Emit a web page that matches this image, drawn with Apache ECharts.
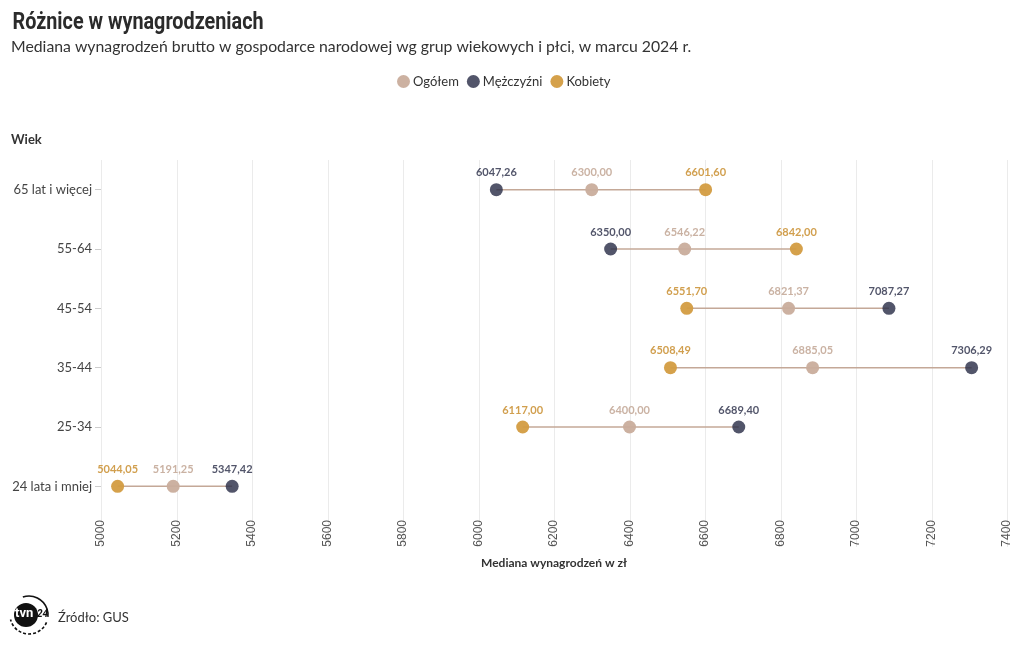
<!DOCTYPE html>
<html><head><meta charset="utf-8">
<script src="https://cdn.jsdelivr.net/npm/echarts@6/dist/echarts.min.js"></script>
<style>html,body{margin:0;padding:0;background:#fff}#c{width:1020px;height:650px}</style>
</head><body><div id="c"></div>
<script>
const categories = ['65 lat i więcej', '55-64', '45-54', '35-44', '25-34', '24 lata i mniej'];
const ogolem = [6300.00, 6546.22, 6821.37, 6885.05, 6400.00, 5191.25];
const mezczyzni = [6047.26, 6350.00, 7087.27, 7306.29, 6689.40, 5347.42];
const kobiety = [6601.60, 6842.00, 6551.70, 6508.49, 6117.00, 5044.05];
const xTicks = [5000, 5200, 5400, 5600, 5800, 6000, 6200, 6400, 6600, 6800, 7000, 7200, 7400];

const C_O = '#c9ad9c', C_M = '#2c3049', C_K = '#d39c41';
const LC_O = '#c7ae9e', LC_M = '#2c3049', LC_K = '#cf9a45';
const FONT = 'Lato';
const fmt = v => v.toFixed(2).replace('.', ',');

const ranges = categories.map((c, i) => {
  const vals = [ogolem[i], mezczyzni[i], kobiety[i]];
  return [Math.min(...vals), Math.max(...vals), i];
});

function scatter(name, vals, color, lcolor) {
  return {
    name, type: 'scatter', symbol: 'circle', symbolSize: 13, z: 3,
    itemStyle: { color, opacity: name === 'Mężczyźni' ? 0.82 : 0.95 },
    data: vals.map((v, i) => [v, i]),
    label: {
      show: true, position: 'top', distance: 5,
      formatter: p => fmt(p.value[0]),
      color: lcolor, fontFamily: FONT, fontWeight: 'bold', fontSize: 11
    }
  };
}

const chart = echarts.init(document.getElementById('c'), null, { renderer: 'canvas' });
chart.setOption({
  animation: false,
  textStyle: { fontFamily: FONT },
  title: [
    { text: 'Mediana wynagrodzeń brutto w gospodarce narodowej wg grup wiekowych i płci, w marcu 2024 r.', left: 6, top: 34,
      textStyle: { fontFamily: FONT, fontWeight: 'normal', fontSize: 15.8, color: '#333' } },
    { text: 'Wiek', left: 6, top: 128, textStyle: { fontFamily: FONT, fontWeight: 'bold', fontSize: 13, color: '#333' } },
    { text: 'Źródło: GUS', left: 53, top: 606, textStyle: { fontFamily: FONT, fontWeight: 'normal', fontSize: 13, color: '#333' } }
  ],
  legend: {
    top: 70, left: 392, itemWidth: 13, itemHeight: 13, itemGap: 8,
    icon: 'circle',
    textStyle: { fontFamily: FONT, fontSize: 13, color: '#333', padding: [0, 0, 0, -2] },
    data: ['Ogółem', 'Mężczyźni', 'Kobiety']
  },
  grid: { left: 101, right: 13, top: 160, bottom: 134, containLabel: false },
  xAxis: {
    type: 'value', min: 5000, max: 7400, interval: 200,
    name: 'Mediana wynagrodzeń w zł', nameLocation: 'middle', nameGap: 41,
    nameTextStyle: { fontFamily: FONT, fontWeight: 'bold', fontSize: 12, color: '#333' },
    axisLine: { show: false }, axisTick: { show: false },
    axisLabel: { rotate: 90, color: '#555', fontFamily: 'Liberation Sans', fontSize: 12, margin: 4,
      formatter: v => xTicks.includes(v) ? String(v) : '' },
    splitLine: { show: false }
  },
  yAxis: {
    type: 'category', data: categories, inverse: true,
    axisLine: { show: false },
    axisTick: { show: true, length: 6, alignWithLabel: true, lineStyle: { color: '#ccc' } },
    axisLabel: { color: '#444', fontFamily: FONT, fontSize: 13, margin: 9 },
    splitLine: { show: false }
  },
  series: [
    {
      type: 'custom', name: 'grid', z: 0, silent: true, clip: false,
      data: xTicks.map(v => [v]),
      renderItem: (params, api) => {
        const cs = params.coordSys;
        const x = Math.round(api.coord([api.value(0), 0])[0]) + 0.5;
        return { type: 'line', shape: { x1: x, y1: cs.y, x2: x, y2: cs.y + cs.height + 31 },
          style: { stroke: '#ebebeb', lineWidth: 1 } };
      },
      encode: { x: 0 }
    },
    {
      type: 'custom', name: 'range', z: 1, silent: true,
      data: ranges,
      renderItem: (params, api) => {
        const a = api.coord([api.value(0), api.value(2)]);
        const b = api.coord([api.value(1), api.value(2)]);
        return { type: 'line', shape: { x1: a[0], y1: a[1], x2: b[0], y2: b[1] },
          style: { stroke: '#c4a897', lineWidth: 1.5 } };
      },
      encode: { x: [0, 1], y: 2 }
    },
    scatter('Ogółem', ogolem, C_O, LC_O),
    scatter('Mężczyźni', mezczyzni, C_M, LC_M),
    scatter('Kobiety', kobiety, C_K, LC_K)
  ],
  graphic: [
    { type: 'text', x: 11, y: 12, scaleX: 0.86, originX: 11,
      style: { text: 'Różnice w wynagrodzeniach', fill: '#2b2b2b', font: 'bold 23px Roboto' } },
    { type: 'arc', shape: { cx: 29, cy: 615, r: 19, startAngle: -1.9, endAngle: 0.1 },
      style: { stroke: '#111', lineWidth: 1.6, fill: null } },
    { type: 'arc', shape: { cx: 29, cy: 615, r: 19, startAngle: 0.4, endAngle: 2.9 },
      style: { stroke: '#111', lineWidth: 1.6, fill: null, lineDash: [3, 2] } },
    { type: 'circle', shape: { cx: 26, cy: 615, r: 12 }, style: { fill: '#111' } },
    { type: 'text', x: 15, y: 607, style: { text: 'tvn', fill: '#fff', font: 'bold 13px Roboto' } },
    { type: 'text', x: 37, y: 609, style: { text: '24', fill: '#111', font: 'bold italic 10px Roboto' } }
  ]
});
</script></body></html>
